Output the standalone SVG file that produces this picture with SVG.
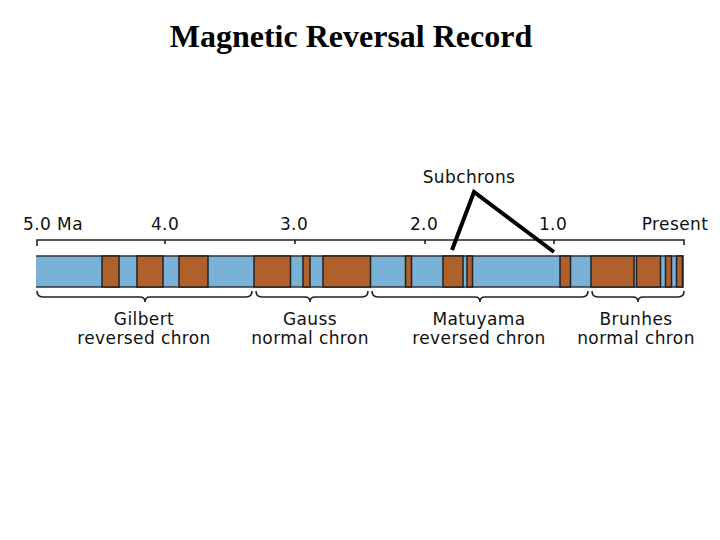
<svg xmlns="http://www.w3.org/2000/svg" width="720" height="540" viewBox="0 0 720 540">
<style>
.lbl{font-family:"DejaVu Sans",Verdana,sans-serif;font-size:17px;letter-spacing:0.4px;fill:#111;text-anchor:middle}
.title{font-family:"Liberation Serif","Times New Roman",serif;font-size:32px;font-weight:bold;fill:#000;text-anchor:middle}
.rev{fill:#B0602A;stroke:#222;stroke-width:1.5}
.brace{fill:none;stroke:#222;stroke-width:1.6}
.ruler{fill:none;stroke:#222;stroke-width:1.6}
</style>
<rect width="720" height="540" fill="#fff"/>
<text class="title" x="351" y="47">Magnetic Reversal Record</text>
<g id="axis">
<text class="lbl" x="53" y="230">5.0 Ma</text>
<text class="lbl" x="165" y="230">4.0</text>
<text class="lbl" x="294" y="230">3.0</text>
<text class="lbl" x="424" y="230">2.0</text>
<text class="lbl" x="553" y="230">1.0</text>
<text class="lbl" x="675" y="230">Present</text>
<path class="ruler" d="M37 246 V240 H684 V245 M165 240 V244 M295 240 V244 M425 240 V244 M554 240 V244"/>
</g>
<g id="bar">
<rect x="36" y="256" width="647" height="31" fill="#79B2D6"/>
<path d="M36 256 H683 V287 H36" fill="none" stroke="#333" stroke-width="1.5"/>
<rect class="rev" x="102" y="256" width="17" height="31"/>
<rect class="rev" x="137" y="256" width="26" height="31"/>
<rect class="rev" x="179" y="256" width="29" height="31"/>
<rect class="rev" x="254" y="256" width="36.5" height="31"/>
<rect class="rev" x="303" y="256" width="7" height="31"/>
<rect class="rev" x="323" y="256" width="47.5" height="31"/>
<rect class="rev" x="405.5" y="256" width="6" height="31"/>
<rect class="rev" x="443" y="256" width="20" height="31"/>
<rect class="rev" x="467" y="256" width="5.5" height="31"/>
<rect class="rev" x="560" y="256" width="10.5" height="31"/>
<rect class="rev" x="591" y="256" width="43" height="31"/>
<rect class="rev" x="636.5" y="256" width="24" height="31"/>
<rect class="rev" x="665.5" y="256" width="6" height="31"/>
<rect class="rev" x="676.5" y="256" width="6" height="31"/>
</g>
<g id="connectors">
<path d="M452 250 L474 192 L554 252" fill="none" stroke="#000" stroke-width="4"/>
</g>
<g id="subchrons">
<text class="lbl" x="469" y="183">Subchrons</text>
</g>
<g id="gilbert">
<path class="brace" d="M37 291 Q37 297 43 297 H140 Q145 297 145 302 Q145 297 150 297 H246 Q252 297 252 291"/>
<text class="lbl" x="144" y="325">Gilbert</text>
<text class="lbl" x="144" y="344">reversed chron</text>
</g>
<g id="gauss">
<path class="brace" d="M256 291 Q256 297 262 297 H305 Q310 297 310 302 Q310 297 315 297 H362 Q368 297 368 291"/>
<text class="lbl" x="310" y="325">Gauss</text>
<text class="lbl" x="310" y="344">normal chron</text>
</g>
<g id="matuyama">
<path class="brace" d="M372 291 Q372 297 378 297 H475 Q480 297 480 302 Q480 297 485 297 H582 Q588 297 588 291"/>
<text class="lbl" x="479" y="325">Matuyama</text>
<text class="lbl" x="479" y="344">reversed chron</text>
</g>
<g id="brunhes">
<path class="brace" d="M592 291 Q592 297 598 297 H633 Q638 297 638 302 Q638 297 643 297 H678 Q684 297 684 291"/>
<text class="lbl" x="636" y="325">Brunhes</text>
<text class="lbl" x="636" y="344">normal chron</text>
</g>
</svg>
